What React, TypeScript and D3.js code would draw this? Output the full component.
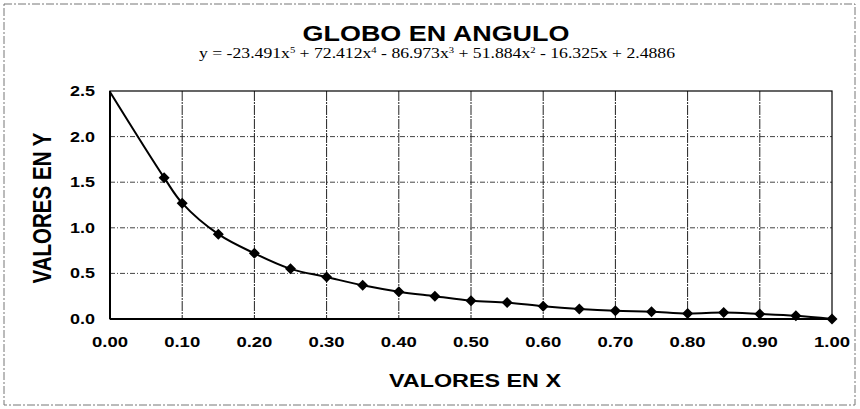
import React from "react";
import * as d3 from "d3";

const W = 860;
const H = 409;

const titleText = "GLOBO EN ANGULO";
const xAxisTitle = "VALORES EN X";
const yAxisTitle = "VALORES EN Y";

// measured data points (markers)
const pointX = [0.075, 0.1, 0.15, 0.2, 0.25, 0.3, 0.35, 0.4, 0.45, 0.5, 0.55, 0.6, 0.65, 0.7, 0.75, 0.8, 0.85, 0.9, 0.95, 1.0];
const pointY = [1.55, 1.27, 0.93, 0.72, 0.55, 0.46, 0.37, 0.3, 0.25, 0.2, 0.18, 0.14, 0.11, 0.09, 0.08, 0.06, 0.07, 0.055, 0.035, 0.0];
// line starts at the y-axis without a marker
const lineStartX = [0];
const lineStartY = [2.49];

const xTicks = [0, 0.1, 0.2, 0.3, 0.4, 0.5, 0.6, 0.7, 0.8, 0.9, 1.0];
const yTicks = [0, 0.5, 1.0, 1.5, 2.0, 2.5];

const margin = { left: 110, right: 860 - 832, top: 91, bottom: 409 - 319 };

export default function App() {
  const x = d3.scaleLinear().domain([0, 1]).range([margin.left, W - margin.right]);
  const y = d3.scaleLinear().domain([0, 2.5]).range([H - margin.bottom, margin.top]);

  const lineData: [number, number][] = [
    ...lineStartX.map((v, i) => [v, lineStartY[i]] as [number, number]),
    ...pointX.map((v, i) => [v, pointY[i]] as [number, number]),
  ];
  const line = d3
    .line<[number, number]>()
    .x((d) => x(d[0]))
    .y((d) => y(d[1]))
    .curve(d3.curveCatmullRom.alpha(0.5));

  const diamond = (cx: number, cy: number, r: number) =>
    `M${cx},${cy - r}L${cx + r},${cy}L${cx},${cy + r}L${cx - r},${cy}Z`;

  const x0 = x(0), x1 = x(1), y0 = y(0), y1 = y(2.5);
  const font = "Arial, 'Liberation Sans', sans-serif";

  return (
    <svg width={W} height={H} style={{ position: "absolute", left: 0, top: 0, background: "#fff" }}>
      <rect x={4} y={4} width={851} height={401} fill="none" stroke="#777" strokeWidth={1} strokeDasharray="8,2,2,2" />

      <text x={436} y={41} textAnchor="middle" fontFamily={font} fontWeight="bold" fontSize={22}
        textLength={267} lengthAdjust="spacingAndGlyphs">{titleText}</text>
      <text x={437} y={58} textAnchor="middle" fontFamily="'Liberation Serif', 'Times New Roman', serif" fontSize={15}
        textLength={476} lengthAdjust="spacingAndGlyphs">
        y = -23.491x<tspan baselineShift="super" fontSize={9}>5</tspan> + 72.412x<tspan baselineShift="super" fontSize={9}>4</tspan> - 86.973x<tspan baselineShift="super" fontSize={9}>3</tspan> + 51.884x<tspan baselineShift="super" fontSize={9}>2</tspan> - 16.325x + 2.4886
      </text>

      {/* horizontal grid */}
      {yTicks.filter((t) => t > 0 && t < 2.5).map((t) => (
        <line key={"hg" + t} x1={x0} x2={x1} y1={y(t)} y2={y(t)} stroke="#444" strokeWidth={1} strokeDasharray="5,2,1,2" />
      ))}
      {/* vertical grid */}
      {xTicks.filter((t) => t > 0 && t < 1).map((t) => (
        <line key={"vg" + t} x1={x(t)} x2={x(t)} y1={y1} y2={y0} stroke="#222" strokeWidth={1} strokeDasharray="10,1,2,1" />
      ))}

      {/* plot border */}
      <rect x={x0} y={y1} width={x1 - x0} height={y0 - y1} fill="none" stroke="#000" strokeWidth={1.2} />
      <line x1={x0} x2={x0} y1={y1} y2={y0} stroke="#000" strokeWidth={2} />
      <line x1={x0} x2={x1} y1={y0} y2={y0} stroke="#000" strokeWidth={2} />

      {/* y tick labels */}
      {yTicks.map((t) => (
        <text key={"yt" + t} x={95} y={y(t) + 5} textAnchor="end" fontFamily={font} fontWeight="bold" fontSize={14}
          textLength={25} lengthAdjust="spacingAndGlyphs">{t.toFixed(1)}</text>
      ))}
      {/* x tick labels */}
      {xTicks.map((t) => (
        <text key={"xt" + t} x={x(t)} y={347} textAnchor="middle" fontFamily={font} fontWeight="bold" fontSize={14}
          textLength={36} lengthAdjust="spacingAndGlyphs">{t.toFixed(2)}</text>
      ))}

      {/* axis titles */}
      <text x={475} y={387} textAnchor="middle" fontFamily={font} fontWeight="bold" fontSize={19}
        textLength={172} lengthAdjust="spacingAndGlyphs">{xAxisTitle}</text>
      <g transform="translate(51,208) scale(1.3,1) rotate(-90)">
        <text x={0} y={0} textAnchor="middle" fontFamily={font} fontWeight="bold" fontSize={20}
          textLength={151} lengthAdjust="spacingAndGlyphs">{yAxisTitle}</text>
      </g>

      {/* series line */}
      <path d={line(lineData) || ""} fill="none" stroke="#000" strokeWidth={2} />
      {pointX.map((v, i) => (
        <path key={"m" + i} d={diamond(x(v), y(pointY[i]), 5.5)} fill="#000" />
      ))}
    </svg>
  );
}
